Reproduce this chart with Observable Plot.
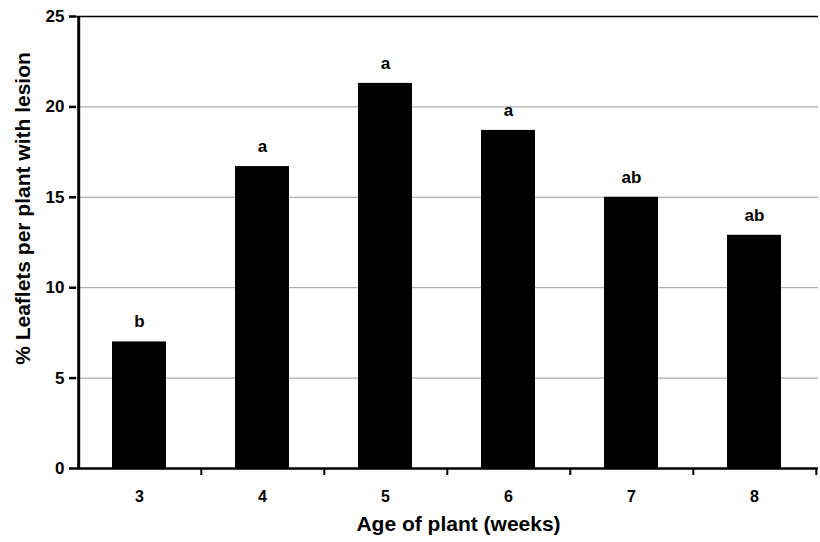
<!DOCTYPE html>
<html>
<head>
<meta charset="utf-8">
<script src="https://cdn.jsdelivr.net/npm/d3@7"></script>
<script src="https://cdn.jsdelivr.net/npm/@observablehq/plot@0.6"></script>
<style>
  html, body { margin: 0; padding: 0; background: #fff; }
  svg { font-family: "Liberation Sans", Arial, sans-serif; }
</style>
</head>
<body>
<div id="chart"></div>
<script>
const weeks = ["3", "4", "5", "6", "7", "8"];
const values = [7.0, 16.7, 21.3, 18.7, 15.0, 12.9];
const letters = ["b", "a", "a", "a", "ab", "ab"];
const yTicks = [0, 5, 10, 15, 20, 25];
const gridLines = [5, 10, 15, 20];
const xTitle = "Age of plant (weeks)";
const yTitle = "% Leaflets per plant with lesion";

const data = weeks.map((w, i) => ({week: w, value: values[i], letter: letters[i]}));

const half = 61.8;

const chart = Plot.plot({
  width: 820,
  height: 542,
  marginLeft: 76,
  marginRight: 2,
  marginTop: 16,
  marginBottom: 74,
  style: {fontFamily: "'Liberation Sans', Arial, sans-serif", background: "#fff"},
  x: {domain: weeks, paddingInner: 0.56, paddingOuter: 0.28, label: null},
  y: {domain: [0, 25], label: null},
  marks: [
    Plot.ruleY(gridLines, {stroke: "#999", strokeWidth: 1}),
    Plot.ruleY([25], {stroke: "#000", strokeWidth: 1.5}),
    Plot.barY(data, {x: "week", y: "value", fill: "#000"}),
    Plot.text(data, {x: "week", y: "value", text: "letter", dy: -20, fontSize: 17, fontWeight: "bold", fill: "#000"}),
    Plot.ruleY([0], {stroke: "#000", strokeWidth: 2.5}),
    Plot.ruleX(weeks, {dx: half, y1: 0, y2: 0, insetBottom: -7, stroke: "#000", strokeWidth: 2}),
    Plot.ruleX([weeks[0]], {dx: -half + 1, stroke: "#000", strokeWidth: 3}),
    Plot.axisY({ticks: yTicks, tickSize: 7, tickPadding: 5, strokeWidth: 2.5, fontSize: 17, fontWeight: "bold", label: null, color: "#000"}),
    Plot.axisX({tickSize: 0, tickPadding: 22, fontSize: 16, fontWeight: "bold", label: null, color: "#000"}),
    Plot.text([xTitle], {frameAnchor: "bottom", dx: 11, dy: 62, fontSize: 21, fontWeight: "bold", fill: "#000"}),
    Plot.text([yTitle], {frameAnchor: "left", textAnchor: "middle", dx: -53, dy: -34, rotate: -90, fontSize: 21, fontWeight: "bold", fill: "#000"})
  ]
});
document.getElementById("chart").appendChild(chart);
</script>
</body>
</html>
